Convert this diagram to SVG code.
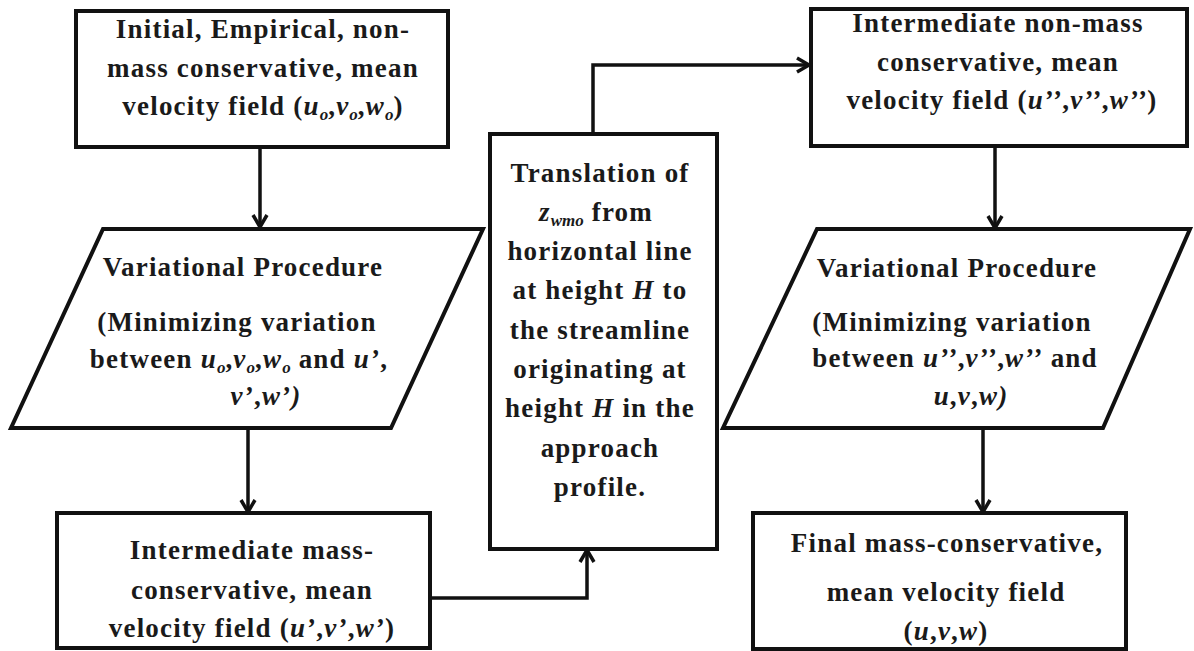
<svg xmlns="http://www.w3.org/2000/svg" width="1194" height="651" viewBox="0 0 1194 651">
<style>
.box{fill:#fff;stroke:#111;stroke-width:4;stroke-linejoin:miter}
.t{font-family:"Liberation Serif","Times New Roman",serif;font-weight:bold;font-size:27px;text-anchor:middle;fill:#1a1a1a;letter-spacing:1.2px}
.i{font-style:italic}
.s{font-style:italic;font-size:17px;letter-spacing:0}
.c{fill:none;stroke:#111;stroke-width:3.5}
</style>
<defs>
<marker id="ah" markerUnits="userSpaceOnUse" viewBox="-14 -10 16 20" refX="0" refY="0" markerWidth="16" markerHeight="20" orient="auto" overflow="visible">
<path d="M-12,-7 L0,0 L-12,7" fill="none" stroke="#111" stroke-width="3.5"/>
</marker>
</defs>
<rect width="1194" height="651" fill="#fff"/>
<g id="connectors">
<path class="c" d="M260,147 V227" marker-end="url(#ah)"/>
<path class="c" d="M248,428 V512" marker-end="url(#ah)"/>
<path class="c" d="M430,598 H587 V550" marker-end="url(#ah)"/>
<path class="c" d="M593,134 V65 H809" marker-end="url(#ah)"/>
<path class="c" d="M995,146 V228" marker-end="url(#ah)"/>
<path class="c" d="M983,428 V512" marker-end="url(#ah)"/>
</g>
<g id="n1">
<rect class="box" x="76" y="11" width="372" height="136"/>
<text class="t" x="263" y="38">Initial, Empirical, non-</text>
<text class="t" x="263" y="77">mass conservative, mean</text>
<text class="t" x="263" y="115">velocity field (<tspan class="i">u</tspan><tspan class="s" dy="5">o</tspan><tspan dy="-5">,</tspan><tspan class="i">v</tspan><tspan class="s" dy="5">o</tspan><tspan dy="-5">,</tspan><tspan class="i">w</tspan><tspan class="s" dy="5">o</tspan><tspan dy="-5">)</tspan></text>
</g>
<g id="n2">
<polygon class="box" points="103,229 483,229 391,428 11,428"/>
<text class="t" x="243" y="276">Variational Procedure</text>
<text class="t" x="237" y="331">(Minimizing variation</text>
<text class="t" x="239" y="368">between <tspan class="i">u</tspan><tspan class="s" dy="5">o</tspan><tspan dy="-5">,</tspan><tspan class="i">v</tspan><tspan class="s" dy="5">o</tspan><tspan dy="-5">,</tspan><tspan class="i">w</tspan><tspan class="s" dy="5">o</tspan><tspan dy="-5"> and </tspan><tspan class="i">u’</tspan>,</text>
<text class="t" x="266" y="405"><tspan class="i">v’</tspan>,<tspan class="i">w’)</tspan></text>
</g>
<g id="n3">
<rect class="box" x="57" y="513" width="373" height="135"/>
<text class="t" x="252" y="559">Intermediate mass-</text>
<text class="t" x="252" y="599">conservative, mean</text>
<text class="t" x="252" y="637">velocity field (<tspan class="i">u’</tspan>,<tspan class="i">v’</tspan>,<tspan class="i">w’</tspan>)</text>
</g>
<g id="n4">
<rect class="box" x="490" y="134" width="227" height="415"/>
<text class="t" x="600" y="182">Translation of</text>
<text class="t" x="596" y="221"><tspan class="i">z</tspan><tspan class="s" dy="5">wmo</tspan><tspan dy="-5"> from</tspan></text>
<text class="t" x="600" y="260">horizontal line</text>
<text class="t" x="600" y="299">at height <tspan class="i">H</tspan> to</text>
<text class="t" x="600" y="339">the streamline</text>
<text class="t" x="600" y="378">originating at</text>
<text class="t" x="600" y="417">height <tspan class="i">H</tspan> in the</text>
<text class="t" x="600" y="457">approach</text>
<text class="t" x="600" y="496">profile.</text>
</g>
<g id="n5">
<rect class="box" x="811" y="9" width="376" height="137"/>
<text class="t" x="998" y="32">Intermediate non-mass</text>
<text class="t" x="998" y="71">conservative, mean</text>
<text class="t" x="1002" y="109">velocity field (<tspan class="i">u’’</tspan>,<tspan class="i">v’’</tspan>,<tspan class="i">w’’</tspan>)</text>
</g>
<g id="n6">
<polygon class="box" points="817,229 1190,229 1103,428 723,428"/>
<text class="t" x="957" y="277">Variational Procedure</text>
<text class="t" x="952" y="331">(Minimizing variation</text>
<text class="t" x="955" y="367">between <tspan class="i">u’’</tspan>,<tspan class="i">v’’</tspan>,<tspan class="i">w’’</tspan> and</text>
<text class="t" x="971" y="405"><tspan class="i">u</tspan>,<tspan class="i">v</tspan>,<tspan class="i">w)</tspan></text>
</g>
<g id="n7">
<rect class="box" x="753" y="513" width="373" height="136"/>
<text class="t" x="947" y="552">Final mass-conservative,</text>
<text class="t" x="946" y="601">mean velocity field</text>
<text class="t" x="946" y="640">(<tspan class="i">u</tspan>,<tspan class="i">v</tspan>,<tspan class="i">w</tspan>)</text>
</g>
</svg>
